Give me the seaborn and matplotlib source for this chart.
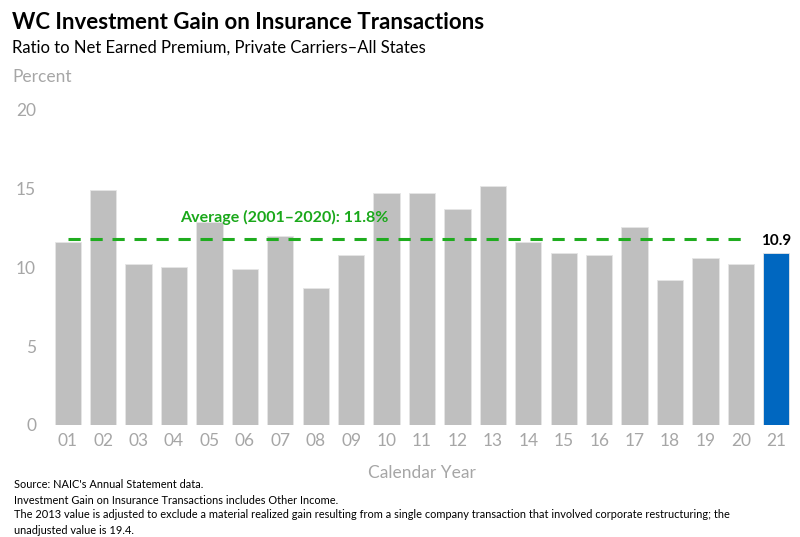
import matplotlib
matplotlib.use("Agg")
import matplotlib.pyplot as plt
import seaborn as sns
import pandas as pd

years = ["01", "02", "03", "04", "05", "06", "07", "08", "09", "10",
         "11", "12", "13", "14", "15", "16", "17", "18", "19", "20", "21"]
values = [11.6, 14.9, 10.2, 10.0, 12.9, 9.9, 12.0, 8.7, 10.8, 14.7,
          14.7, 13.7, 15.2, 11.6, 10.9, 10.8, 12.6, 9.2, 10.6, 10.2, 10.9]
average = 11.8
yticks = [0, 5, 10, 15, 20]

sns.set_theme(style="white")
plt.rcParams['font.family'] = ['Lato', 'DejaVu Sans']

df = pd.DataFrame({"year": years, "value": values})
colors = ["#bfbfbf"] * (len(years) - 1) + ["#0067c0"]

fig = plt.figure(figsize=(8, 5.37), dpi=100)
ax = fig.add_axes([0.0625, 0.2086, 0.93, 0.5866])
sns.barplot(data=df, x="year", y="value", hue="year", palette=colors,
            legend=False, width=0.74, ax=ax, saturation=1,
            edgecolor="#e6e6e6", linewidth=0.6)

ax.set_ylim(0, 20)
ax.set_xlim(-0.5, len(years) - 0.5)
ax.set_yticks(yticks)
ax.set_yticklabels([str(t) for t in yticks])
for s in ax.spines.values():
    s.set_visible(False)
ax.tick_params(axis="both", length=0, colors="#a6a6a6", labelsize=12.5)
ax.tick_params(axis="y", pad=10)
ax.tick_params(axis="x", pad=6)
ax.set_xlabel("Calendar Year", color="#a6a6a6", fontsize=12.5, labelpad=11)
ax.set_ylabel("")

# average line from 01 to 20
ax.plot([0, len(years) - 2], [average, average], color="#1fac1f",
        linestyle=(0, (4, 3.2)), linewidth=2.2)
ax.text(6.1, 13.2, "Average (2001\u20132020): 11.8%", color="#1aa81a",
        fontsize=11.5, fontweight="bold", ha="center", va="center")

# value label for last bar
ax.text(len(years) - 1, values[-1] + 0.75, f"{values[-1]:.1f}", color="black",
        fontsize=11, fontweight="bold", ha="center", va="center")

fig.text(0.015, 0.958, "WC Investment Gain on Insurance Transactions",
         fontsize=16, fontweight="bold", color="black", ha="left", va="center")
fig.text(0.015, 0.912, "Ratio to Net Earned Premium, Private Carriers\u2013All States",
         fontsize=12, color="black", ha="left", va="center")
fig.text(0.016, 0.857, "Percent", fontsize=12.5, color="#a6a6a6", ha="left", va="center")

foot = ["Source: NAIC's Annual Statement data.",
        "Investment Gain on Insurance Transactions includes Other Income.",
        "The 2013 value is adjusted to exclude a material realized gain resulting from a single company transaction that involved corporate restructuring; the",
        "unadjusted value is 19.4."]
ys = [484, 500, 515, 530]
for t, yy in zip(foot, ys):
    fig.text(0.018, 1 - yy / 537, t, fontsize=7.9, color="black", ha="left", va="center")

fig.savefig("out.png", dpi=100)
